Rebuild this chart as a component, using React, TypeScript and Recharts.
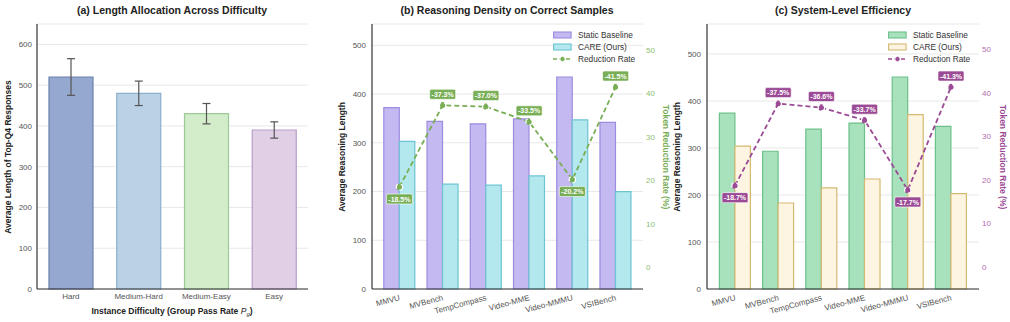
import React from 'react';
import { ComposedChart, Bar, Line, XAxis, YAxis, CartesianGrid, ErrorBar, Cell, LabelList } from 'recharts';

const FONT = '"Liberation Sans", Arial, sans-serif';

// (a) difficulty buckets
const difficultyLevels = ['Hard', 'Medium-Hard', 'Medium-Easy', 'Easy'];
const avgTopQ4Length = [520, 480, 430, 390];
const topQ4LengthErr = [45, 30, 25, 20];
const difficultyFill = ['#95a8d0', '#bad1e6', '#d3ecc9', '#e1cfe6'];
const difficultyStroke = ['#6a80ab', '#8aafcf', '#9ccb98', '#b79cc9'];

// (b) / (c) benchmarks
const benchmarks = ['MMVU', 'MVBench', 'TempCompass', 'Video-MME', 'Video-MMMU', 'VSIBench'];
const densityBaseline = [372, 344, 339, 349, 435, 342];
const densityCare = [303, 215, 213, 232, 347, 200];
const densityReduction = [18.5, 37.3, 37.0, 33.5, 20.2, 41.5];
const systemBaseline = [374, 293, 340, 353, 451, 346];
const systemCare = [304, 183, 215, 234, 371, 203];
const systemReduction = [18.7, 37.5, 36.6, 33.7, 17.7, 41.3];

const lengthTicks = [0, 100, 200, 300, 400, 500];
const rateTicks = [0, 10, 20, 30, 40, 50];

const difficultyData = difficultyLevels.map((name, i) => ({
  name,
  length: avgTopQ4Length[i],
  err: topQ4LengthErr[i],
}));

const buildBench = (base: number[], care: number[], red: number[]) =>
  benchmarks.map((name, i) => ({ name, baseline: base[i], care: care[i], reduction: red[i] }));

const axisTick = { fontSize: 8, fill: '#555', fontFamily: FONT };

const CenterTick = ({ x, y, payload }: any) => (
  <text x={x} y={y + 8} textAnchor="middle" fontSize={8} fill="#555" fontFamily={FONT}>
    {payload.value}
  </text>
);

const SlantTick = ({ x, y, payload }: any) => (
  <text
    x={x + 1}
    y={y + 9}
    textAnchor="end"
    fontSize={8}
    fill="#555"
    fontFamily={FONT}
    transform={`rotate(-15 ${x + 1} ${y + 9})`}
  >
    {payload.value}
  </text>
);

function PanelA() {
  return (
    <div style={{ position: 'absolute', left: 0, top: 0, width: 330, height: 322 }}>
      <ComposedChart
        width={330}
        height={322}
        data={difficultyData}
        margin={{ top: 24, right: 22, bottom: 13, left: 7 }}
      >
        <CartesianGrid vertical={false} stroke="#e8e8e8" strokeWidth={1} />
        <XAxis
          dataKey="name"
          height={20}
          tickLine={false}
          tickSize={0}
          axisLine={{ stroke: '#333', strokeWidth: 1.2 }}
          tick={<CenterTick />}
          interval={0}
        />
        <YAxis
          width={30}
          domain={[0, 650]}
          ticks={[0, 100, 200, 300, 400, 500, 600]}
          tickLine={false}
          tickSize={0}
          tickMargin={5}
          axisLine={{ stroke: '#333', strokeWidth: 1.2 }}
          tick={axisTick}
        />
        <Bar dataKey="length" barSize={44} isAnimationActive={false} strokeWidth={1.2}>
          {difficultyData.map((d, i) => (
            <Cell key={d.name} fill={difficultyFill[i]} stroke={difficultyStroke[i]} />
          ))}
          <ErrorBar dataKey="err" width={4} stroke="#555" strokeWidth={1.2} direction="y" />
        </Bar>
      </ComposedChart>
      <svg width={330} height={322} style={{ position: 'absolute', left: 0, top: 0, pointerEvents: 'none' }}>
        <text x={172} y={14} textAnchor="middle" fontSize={10.5} fontWeight="bold" fill="#222" fontFamily={FONT}>
          (a) Length Allocation Across Difficulty
        </text>
        <text x={172} y={314} textAnchor="middle" fontSize={8.5} fontWeight="bold" fill="#222" fontFamily={FONT}>
          Instance Difficulty (Group Pass Rate <tspan fontStyle="italic" fontWeight="normal">P</tspan>
          <tspan fontSize={6} dy={2} fontStyle="italic" fontWeight="normal">g</tspan>
          <tspan dy={-2}>)</tspan>
        </text>
        <text
          x={11}
          y={157}
          textAnchor="middle"
          fontSize={8.5}
          fontWeight="bold"
          fill="#222"
          fontFamily={FONT}
          transform="rotate(-90 11 157)"
        >
          Average Length of Top-Q4 Responses
        </text>
      </svg>
    </div>
  );
}

interface BenchProps {
  left: number;
  width: number;
  margin: { top: number; right: number; bottom: number; left: number };
  rightAxisWidth: number;
  padding: number;
  data: ReturnType<typeof buildBench>;
  yMax: number;
  rateMax: number;
  title: string;
  titleX: number;
  baseFill: string;
  baseStroke: string;
  careFill: string;
  careStroke: string;
  accent: string;
  accentTick: string;
  leftLabelX: number;
  rightLabelX: number;
  legendLeft: number;
}

const makeRateLabel = (accent: string) => (props: any) => {
  const { x, y, value } = props;
  const below = value < 25;
  const cy = below ? y + 12 : y - 11;
  const text = `-${Number(value).toFixed(1)}%`;
  return (
    <g>
      <rect x={x - 13} y={cy - 5} width={26} height={10} rx={1.5} fill={accent} stroke="#fff" strokeWidth={0.6} />
      <text
        x={x}
        y={cy + 2.6}
        textAnchor="middle"
        fontSize={7}
        fontWeight="bold"
        fill="#fff"
        fontFamily={FONT}
      >
        {text}
      </text>
    </g>
  );
};

function BenchLegend({ p }: { p: BenchProps }) {
  const items = [
    { label: 'Static Baseline', kind: 'bar', fill: p.baseFill, stroke: p.baseStroke },
    { label: 'CARE (Ours)', kind: 'bar', fill: p.careFill, stroke: p.careStroke },
    { label: 'Reduction Rate', kind: 'line', fill: p.accent, stroke: p.accent },
  ];
  return (
    <div
      style={{
        position: 'absolute',
        top: 29,
        left: p.legendLeft,
        fontFamily: FONT,
        fontSize: 8.3,
        color: '#333',
        lineHeight: '12px',
      }}
    >
      {items.map((it) => (
        <div key={it.label} style={{ display: 'flex', alignItems: 'center', height: 12 }}>
          <svg width={19} height={8} style={{ marginRight: 6 }}>
            {it.kind === 'bar' ? (
              <rect x={0.6} y={1} width={17.5} height={6} fill={it.fill} stroke={it.stroke} strokeWidth={1.1} />
            ) : (
              <g>
                <line x1={0} y1={4} x2={19} y2={4} stroke={it.stroke} strokeWidth={1.6} strokeDasharray="4 2.5" />
                <circle cx={9.5} cy={4} r={2.6} fill={it.fill} stroke="#fff" strokeWidth={0.8} />
              </g>
            )}
          </svg>
          <span>{it.label}</span>
        </div>
      ))}
    </div>
  );
}

function BenchPanel(p: BenchProps) {
  return (
    <div style={{ position: 'absolute', left: p.left, top: 0, width: p.width, height: 322 }}>
      <ComposedChart width={p.width} height={322} data={p.data} margin={p.margin} barGap={0}>
        <CartesianGrid vertical={false} yAxisId="left" stroke="#e8e8e8" strokeWidth={1} />
        <XAxis
          dataKey="name"
          height={20}
          tickLine={false}
          tickSize={0}
          interval={0}
          padding={{ left: p.padding, right: p.padding }}
          axisLine={{ stroke: '#333', strokeWidth: 1.2 }}
          tick={<SlantTick />}
        />
        <YAxis
          yAxisId="left"
          width={30}
          domain={[0, p.yMax]}
          ticks={lengthTicks}
          tickLine={false}
          tickSize={0}
          tickMargin={6}
          axisLine={{ stroke: '#333', strokeWidth: 1.2 }}
          tick={axisTick}
        />
        <YAxis
          yAxisId="right"
          orientation="right"
          width={p.rightAxisWidth}
          domain={[-5, p.rateMax]}
          ticks={rateTicks}
          tickLine={false}
          tickSize={0}
          tickMargin={3}
          axisLine={false}
          tick={{ ...axisTick, fill: p.accentTick }}
        />
        <Bar
          yAxisId="left"
          dataKey="baseline"
          name="Static Baseline"
          barSize={15.5}
          fill={p.baseFill}
          stroke={p.baseStroke}
          strokeWidth={1.2}
          isAnimationActive={false}
        />
        <Bar
          yAxisId="left"
          dataKey="care"
          name="CARE (Ours)"
          barSize={15.5}
          fill={p.careFill}
          stroke={p.careStroke}
          strokeWidth={1.2}
          isAnimationActive={false}
        />
        <Line
          yAxisId="right"
          dataKey="reduction"
          name="Reduction Rate"
          type="linear"
          stroke={p.accent}
          strokeWidth={1.8}
          strokeDasharray="5 3"
          dot={{ r: 3.2, fill: p.accent, stroke: '#fff', strokeWidth: 1.2 }}
          isAnimationActive={false}
        >
          <LabelList dataKey="reduction" content={makeRateLabel(p.accent)} />
        </Line>
      </ComposedChart>
      <BenchLegend p={p} />
      <svg width={p.width + 40} height={322} style={{ position: 'absolute', left: 0, top: 0, pointerEvents: 'none', overflow: 'visible' }}>
        <text x={p.titleX} y={14} textAnchor="middle" fontSize={10.5} fontWeight="bold" fill="#222" fontFamily={FONT}>
          {p.title}
        </text>
        <text
          x={p.leftLabelX}
          y={157}
          textAnchor="middle"
          fontSize={8.5}
          fontWeight="bold"
          fill="#222"
          fontFamily={FONT}
          transform={`rotate(-90 ${p.leftLabelX} 157)`}
        >
          Average Reasoning Length
        </text>
        <text
          x={p.rightLabelX}
          y={157}
          textAnchor="middle"
          fontSize={8.5}
          fontWeight="bold"
          fill={p.accent}
          fontFamily={FONT}
          transform={`rotate(90 ${p.rightLabelX} 157)`}
        >
          Token Reduction Rate (%)
        </text>
      </svg>
    </div>
  );
}

export default function App() {
  return (
    <div style={{ position: 'absolute', left: 0, top: 0, width: 1010, height: 322, background: '#fff', overflow: 'hidden' }}>
      <PanelA />
      <BenchPanel
        left={330}
        width={350}
        margin={{ top: 24, right: 12, bottom: 13, left: 12 }}
        rightAxisWidth={25}
        padding={5.8}
        data={buildBench(densityBaseline, densityCare, densityReduction)}
        yMax={435 * 1.25}
        rateMax={41.5 * 1.35}
        title="(b) Reasoning Density on Correct Samples"
        titleX={177}
        baseFill="#c4b9f0"
        baseStroke="#9d8ce0"
        careFill="#b3e8ee"
        careStroke="#6cc3d2"
        accent="#78ae55"
        accentTick="#8cc070"
        leftLabelX={15}
        rightLabelX={333}
        legendLeft={223}
      />
      <BenchPanel
        left={670}
        width={340}
        margin={{ top: 24, right: 10, bottom: 13, left: 7 }}
        rightAxisWidth={21}
        padding={6.4}
        data={buildBench(systemBaseline, systemCare, systemReduction)}
        yMax={451 * 1.25}
        rateMax={41.3 * 1.35}
        title="(c) System-Level Efficiency"
        titleX={173}
        baseFill="#a8e2bd"
        baseStroke="#6cc08b"
        careFill="#fdf5e1"
        careStroke="#d4b970"
        accent="#9b4a95"
        accentTick="#b46ab0"
        leftLabelX={10}
        rightLabelX={330}
        legendLeft={218}
      />
    </div>
  );
}
